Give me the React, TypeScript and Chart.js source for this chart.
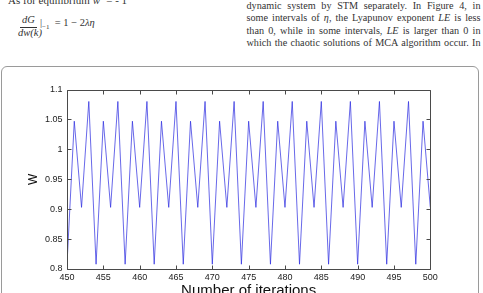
import React, { useEffect, useRef } from "react";
import { Chart, registerables } from "chart.js";

Chart.register(...registerables);

const iterations = [
  450, 451, 452, 453, 454, 455, 456, 457, 458, 459,
  460, 461, 462, 463, 464, 465, 466, 467, 468, 469,
  470, 471, 472, 473, 474, 475, 476, 477, 478, 479,
  480, 481, 482, 483, 484, 485, 486, 487, 488, 489,
  490, 491, 492, 493, 494, 495, 496, 497, 498, 499,
  500,
];

const wValues = [
  0.808, 1.047, 0.903, 1.08, 0.808, 1.047, 0.903, 1.08, 0.808, 1.047,
  0.903, 1.08, 0.808, 1.047, 0.903, 1.08, 0.808, 1.047, 0.903, 1.08,
  0.808, 1.047, 0.903, 1.08, 0.808, 1.047, 0.903, 1.08, 0.808, 1.047,
  0.903, 1.08, 0.808, 1.047, 0.903, 1.08, 0.808, 1.047, 0.903, 1.08,
  0.808, 1.047, 0.903, 1.08, 0.808, 1.047, 0.903, 1.08, 0.808, 1.047,
  0.903,
];

const xTickValues = [450, 455, 460, 465, 470, 475, 480, 485, 490, 495, 500];
const xTickLabels = ["450", "455", "460", "465", "470", "475", "480", "485", "490", "495", "500"];
const yTickValues = [0.8, 0.85, 0.9, 0.95, 1, 1.05, 1.1];
const yTickLabels = ["0.8", "0.85", "0.9", "0.95", "1", "1.05", "1.1"];

const xTitle = "Number of iterations";
const yTitle = "W";

const rightColumn = [
  "dynamic system by STM separately. In Figure 4, in",
  "some intervals of \u03b7, the Lyapunov exponent LE is less",
  "than 0, while in some intervals, LE is larger than 0 in",
  "which the chaotic solutions of MCA algorithm occur. In",
];

const labelFor = (values: number[], labels: string[], v: number) => {
  const i = values.findIndex((t) => Math.abs(t - v) < 1e-9);
  return i >= 0 ? labels[i] : "";
};

const boxTicks = {
  id: "boxTicks",
  afterDraw(chart: any) {
    const { ctx, chartArea, scales } = chart;
    const { left, right, top, bottom } = chartArea;
    const x = scales.x;
    const y = scales.y;
    const L = Math.round(left) + 0.5;
    const R = Math.round(right) + 0.5;
    const T = Math.round(top) + 0.5;
    const B = Math.round(bottom) + 0.5;
    ctx.save();
    ctx.strokeStyle = "#4a4a4a";
    ctx.lineWidth = 1;
    ctx.beginPath();
    ctx.rect(L, T, R - L, B - T);
    ctx.stroke();
    const len = 4;
    ctx.beginPath();
    for (const v of xTickValues) {
      const px = Math.round(x.getPixelForValue(v)) + 0.5;
      ctx.moveTo(px, B);
      ctx.lineTo(px, B - len);
      ctx.moveTo(px, T);
      ctx.lineTo(px, T + len);
    }
    for (const v of yTickValues) {
      const py = Math.round(y.getPixelForValue(v)) + 0.5;
      ctx.moveTo(L, py);
      ctx.lineTo(L + len, py);
      ctx.moveTo(R, py);
      ctx.lineTo(R - len, py);
    }
    ctx.stroke();
    ctx.restore();
  },
};

const serif = '"Liberation Serif", "Times New Roman", serif';
const sans = '"Liberation Sans", Arial, sans-serif';

export default function App() {
  const canvasRef = useRef<HTMLCanvasElement | null>(null);

  useEffect(() => {
    const canvas = canvasRef.current;
    if (!canvas) return;
    const chart = new Chart(canvas, {
      type: "line",
      data: {
        datasets: [
          {
            data: iterations.map((it, i) => ({ x: it, y: wValues[i] })),
            borderColor: "rgba(45,45,225,0.9)",
            borderWidth: 0.8,
            pointRadius: 0,
            tension: 0,
            fill: false,
          },
        ],
      },
      options: {
        animation: false,
        responsive: false,
        devicePixelRatio: 1,
        layout: { padding: { top: 89.5, right: 52.7, bottom: 0, left: 0 } },
        plugins: { legend: { display: false }, tooltip: { enabled: false } },
        scales: {
          x: {
            type: "linear",
            min: 450,
            max: 500,
            grid: { display: false, drawTicks: false },
            border: { display: false },
            afterBuildTicks: (scale: any) => {
              scale.ticks = xTickValues.map((v) => ({ value: v }));
            },
            afterFit: (scale: any) => {
              scale.height = 35;
            },
            ticks: {
              padding: 3,
              color: "#222",
              font: { family: sans, size: 9 },
              maxRotation: 0,
              autoSkip: false,
              callback: (v: any) => labelFor(xTickValues, xTickLabels, Number(v)),
            },
            title: {
              display: true,
              text: xTitle,
              color: "#111",
              font: { family: sans, size: 15 },
              padding: { top: 0, bottom: 4 },
            },
          },
          y: {
            type: "linear",
            min: 0.8,
            max: 1.1,
            grid: { display: false, drawTicks: false },
            border: { display: false },
            afterBuildTicks: (scale: any) => {
              scale.ticks = yTickValues.map((v) => ({ value: v }));
            },
            afterFit: (scale: any) => {
              scale.width = 67;
            },
            ticks: {
              padding: 4.5,
              color: "#222",
              font: { family: sans, size: 9 },
              autoSkip: false,
              callback: (v: any) => labelFor(yTickValues, yTickLabels, Number(v)),
            },
            title: {
              display: true,
              text: yTitle,
              color: "#111",
              font: { family: sans, size: 12 },
              padding: { top: 26.3, bottom: 0 },
            },
          },
        },
      },
      plugins: [boxTicks],
    });
    return () => chart.destroy();
  }, []);

  return (
    <div
      style={{
        position: "fixed",
        left: 0,
        top: 0,
        width: 483,
        height: 293,
        overflow: "hidden",
        background: "#fff",
      }}
    >
      <div
        style={{
          position: "absolute",
          left: 8,
          top: -9,
          fontFamily: serif,
          fontSize: 11,
          lineHeight: "12.5px",
          color: "#333",
          whiteSpace: "nowrap",
        }}
      >
        As for equilibrium <i>w</i>
        <sup style={{ fontSize: 7 }}>*</sup> = - 1
      </div>
      <div
        style={{
          position: "absolute",
          left: 19,
          top: 14,
          width: 19,
          textAlign: "center",
          fontFamily: serif,
          fontSize: 10.5,
          lineHeight: "12px",
          color: "#333",
          fontStyle: "italic",
        }}
      >
        dG
      </div>
      <div
        style={{
          position: "absolute",
          left: 20,
          top: 26.5,
          width: 17,
          height: 0,
          borderTop: "0.8px solid #333",
        }}
      />
      <div
        style={{
          position: "absolute",
          left: 18,
          top: 27,
          width: 21,
          textAlign: "center",
          fontFamily: serif,
          fontSize: 10.5,
          lineHeight: "12px",
          color: "#333",
          fontStyle: "italic",
          whiteSpace: "nowrap",
        }}
      >
        dw(k)
      </div>
      <div
        style={{
          position: "absolute",
          left: 40,
          top: 16.5,
          fontFamily: serif,
          fontSize: 10.5,
          lineHeight: "12px",
          color: "#333",
          whiteSpace: "nowrap",
        }}
      >
        |<sub style={{ fontSize: 7 }}>{"\u22121"}</sub>
        {"\u2002= 1 \u2212 2"}
        <i>{"\u03bb\u03b7"}</i>
      </div>
      <div
        style={{
          position: "absolute",
          left: 246.5,
          top: -0.5,
          width: 234,
          fontFamily: serif,
          fontSize: 10.2,
          lineHeight: "12.5px",
          color: "#333",
        }}
      >
        {rightColumn.map((line, i) => (
          <div
            key={i}
            style={{ textAlign: "justify", textAlignLast: "justify", whiteSpace: "normal" }}
          >
            {line.split(/(\u03b7|LE)/).map((part, j) =>
              part === "\u03b7" || part === "LE" ? <i key={j}>{part}</i> : <span key={j}>{part}</span>
            )}
          </div>
        ))}
      </div>
      <div
        style={{
          position: "absolute",
          left: 1,
          top: 66,
          width: 478,
          height: 260,
          boxSizing: "border-box",
          border: "1.5px solid #9a9a9a",
          borderRadius: 6,
        }}
      />
      <canvas
        ref={canvasRef}
        width={483}
        height={304}
        style={{ position: "absolute", left: 0, top: 0, width: 483, height: 304 }}
      />
    </div>
  );
}
